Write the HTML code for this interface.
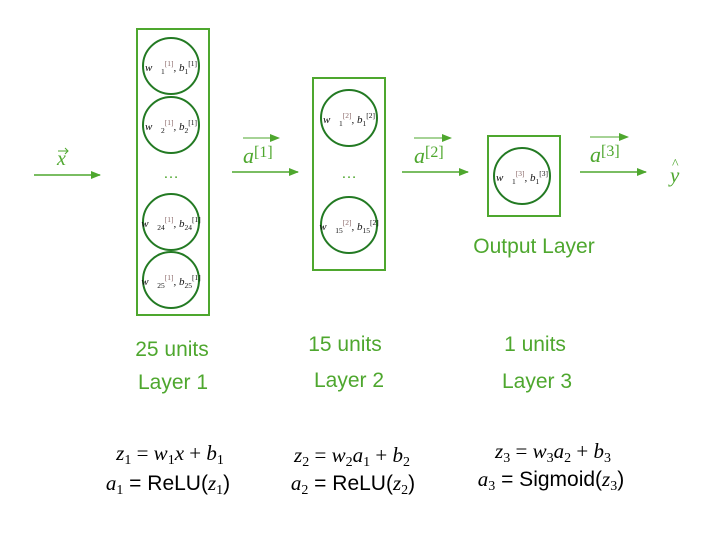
<!DOCTYPE html>
<html><head><meta charset="utf-8"><style>
html,body{margin:0;padding:0;background:#fff;}
svg{display:block;}
.g{fill:#4ea72e;font-family:"Liberation Sans","Noto Sans CJK KR",sans-serif;font-size:21px;}
.m{font-family:"Liberation Serif","DejaVu Serif",serif;font-style:italic;fill:#4ea72e;}
.n{font-family:"Liberation Serif","DejaVu Serif",serif;font-style:italic;font-size:11px;fill:#111;}
.s{font-size:7.5px;font-style:normal;}
.e{font-family:"Liberation Serif","DejaVu Serif",serif;font-size:21px;fill:#000;}
.ef{font-family:"Liberation Sans",sans-serif;font-style:normal;}
</style></head><body>
<svg width="727" height="535" viewBox="0 0 727 535" xmlns="http://www.w3.org/2000/svg">
<defs>
<marker id="ah" markerWidth="10" markerHeight="8" refX="9" refY="4" orient="auto" markerUnits="userSpaceOnUse">
<path d="M0,0 L10,4 L0,8 z" fill="#4ea72e"/></marker>
</defs>
<!-- boxes -->
<rect x="137" y="29" width="72" height="286" fill="none" stroke="#4ea72e" stroke-width="2"/>
<rect x="313" y="78" width="72" height="192" fill="none" stroke="#4ea72e" stroke-width="2"/>
<rect x="488" y="136" width="72" height="80" fill="none" stroke="#4ea72e" stroke-width="2"/>
<g fill="none" stroke="#237a23" stroke-width="2">
<circle cx="171" cy="66" r="28"/><circle cx="171" cy="125" r="28"/>
<circle cx="171" cy="222" r="28"/><circle cx="171" cy="280" r="28"/>
<circle cx="349" cy="118" r="28"/><circle cx="349" cy="225" r="28"/>
<circle cx="522" cy="176" r="28"/>
</g>
<g class="g" text-anchor="middle">
<text x="171" y="178" font-size="16">…</text>
<text x="349" y="178" font-size="16">…</text>
</g>
<!-- node labels -->
<g class="n" text-anchor="middle">
<text x="171" y="71">w⃗<tspan class="s" dy="3">1</tspan><tspan class="s" dy="-8" fill="#866">[1]</tspan><tspan dy="5">, b</tspan><tspan class="s" dy="3">1</tspan><tspan class="s" dy="-8">[1]</tspan></text>
<text x="171" y="130">w⃗<tspan class="s" dy="3">2</tspan><tspan class="s" dy="-8" fill="#866">[1]</tspan><tspan dy="5">, b</tspan><tspan class="s" dy="3">2</tspan><tspan class="s" dy="-8">[1]</tspan></text>
<text x="171" y="227">w⃗<tspan class="s" dy="3">24</tspan><tspan class="s" dy="-8" fill="#866">[1]</tspan><tspan dy="5">, b</tspan><tspan class="s" dy="3">24</tspan><tspan class="s" dy="-8">[1]</tspan></text>
<text x="171" y="285">w⃗<tspan class="s" dy="3">25</tspan><tspan class="s" dy="-8" fill="#866">[1]</tspan><tspan dy="5">, b</tspan><tspan class="s" dy="3">25</tspan><tspan class="s" dy="-8">[1]</tspan></text>
<text x="349" y="123">w⃗<tspan class="s" dy="3">1</tspan><tspan class="s" dy="-8" fill="#866">[2]</tspan><tspan dy="5">, b</tspan><tspan class="s" dy="3">1</tspan><tspan class="s" dy="-8">[2]</tspan></text>
<text x="349" y="230">w⃗<tspan class="s" dy="3">15</tspan><tspan class="s" dy="-8" fill="#866">[2]</tspan><tspan dy="5">, b</tspan><tspan class="s" dy="3">15</tspan><tspan class="s" dy="-8">[2]</tspan></text>
<text x="522" y="181">w⃗<tspan class="s" dy="3">1</tspan><tspan class="s" dy="-8" fill="#866">[3]</tspan><tspan dy="5">, b</tspan><tspan class="s" dy="3">1</tspan><tspan class="s" dy="-8">[3]</tspan></text>
</g>
<!-- arrows -->
<g stroke="#4ea72e" stroke-width="1.5" marker-end="url(#ah)">
<line x1="34" y1="175" x2="100" y2="175"/>
<line x1="232" y1="172" x2="298" y2="172"/>
<line x1="402" y1="172" x2="468" y2="172"/>
<line x1="580" y1="172" x2="646" y2="172"/>
</g>
<g stroke="#4ea72e" stroke-width="1" marker-end="url(#ah)">
<line x1="243" y1="138" x2="279" y2="138"/>
<line x1="414" y1="138" x2="451" y2="138"/>
<line x1="590" y1="137" x2="628" y2="137"/>
</g>
<g class="m">
<text x="57" y="165" font-size="20">x</text>
<path d="M58,151 L68,151 M65,148 L68,151 L65,154" stroke="#4ea72e" fill="none" stroke-width="1"/>
<text x="243" y="163" font-size="22">a<tspan font-style="normal" font-size="16" dy="-6">[1]</tspan></text>
<text x="414" y="163" font-size="22">a<tspan font-style="normal" font-size="16" dy="-6">[2]</tspan></text>
<text x="590" y="162" font-size="22">a<tspan font-style="normal" font-size="16" dy="-6">[3]</tspan></text>
<text x="670" y="182" font-size="21">y</text>
<text x="672" y="168" font-size="14" font-style="normal">^</text>
</g>
<!-- labels -->
<g class="g" text-anchor="middle">
<text x="534" y="253">Output Layer</text>
<text x="172" y="356">25 units</text>
<text x="173" y="389">Layer 1</text>
<text x="345" y="351">15 units</text>
<text x="349" y="387">Layer 2</text>
<text x="535" y="351">1 units</text>
<text x="537" y="388">Layer 3</text>
</g>
<!-- equations -->
<g class="e" text-anchor="middle" font-style="italic">
<text x="170" y="460">z<tspan font-size="14" dy="4" font-style="normal">1</tspan><tspan dy="-4" font-style="normal"> = </tspan>w<tspan font-size="14" dy="4" font-style="normal">1</tspan><tspan dy="-4">x</tspan><tspan font-style="normal"> + </tspan>b<tspan font-size="14" dy="4" font-style="normal">1</tspan></text>
<text x="168" y="490">a<tspan font-size="14" dy="4" font-style="normal">1</tspan><tspan dy="-4" class="ef"> = ReLU(</tspan>z<tspan font-size="14" dy="4" font-style="normal">1</tspan><tspan dy="-4" class="ef">)</tspan></text>
<text x="352" y="462">z<tspan font-size="14" dy="4" font-style="normal">2</tspan><tspan dy="-4" font-style="normal"> = </tspan>w<tspan font-size="14" dy="4" font-style="normal">2</tspan><tspan dy="-4">a</tspan><tspan font-size="14" dy="4" font-style="normal">1</tspan><tspan dy="-4" font-style="normal"> + </tspan>b<tspan font-size="14" dy="4" font-style="normal">2</tspan></text>
<text x="353" y="490">a<tspan font-size="14" dy="4" font-style="normal">2</tspan><tspan dy="-4" class="ef"> = ReLU(</tspan>z<tspan font-size="14" dy="4" font-style="normal">2</tspan><tspan dy="-4" class="ef">)</tspan></text>
<text x="553" y="458">z<tspan font-size="14" dy="4" font-style="normal">3</tspan><tspan dy="-4" font-style="normal"> = </tspan>w<tspan font-size="14" dy="4" font-style="normal">3</tspan><tspan dy="-4">a</tspan><tspan font-size="14" dy="4" font-style="normal">2</tspan><tspan dy="-4" font-style="normal"> + </tspan>b<tspan font-size="14" dy="4" font-style="normal">3</tspan></text>
<text x="551" y="486">a<tspan font-size="14" dy="4" font-style="normal">3</tspan><tspan dy="-4" class="ef"> = Sigmoid(</tspan>z<tspan font-size="14" dy="4" font-style="normal">3</tspan><tspan dy="-4" class="ef">)</tspan></text>
</g>
</svg>
</body></html>
